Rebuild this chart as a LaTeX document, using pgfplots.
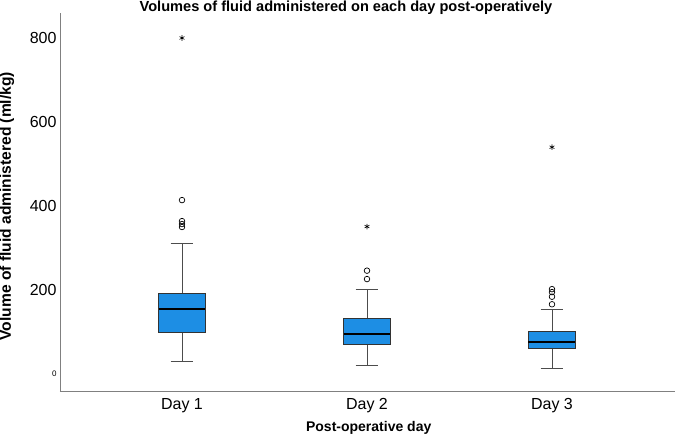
\documentclass[border=0pt]{standalone}
\usepackage{fontspec}
\setmainfont{Liberation Sans}
\usepackage{pgfplots}
\pgfplotsset{compat=1.18}
\definecolor{boxblue}{RGB}{29,142,228}
\definecolor{axgray}{RGB}{128,128,128}
\begin{document}
\begin{tikzpicture}
\begin{axis}[
 at={(0pt,0pt)}, anchor=south west,
 scale only axis, width=615pt, height=378pt,
 xmin=0.3405, xmax=3.665, ymin=-40.5, ymax=859.5,
 axis x line*=bottom, axis y line*=left,
 axis line style={axgray, line width=0.9pt, -},
 xtick={1,2,3}, xticklabels={Day 1, Day 2, Day 3},
 ytick={0,200,400,600,800},
 yticklabels={{\fontsize{8}{9}\selectfont 0},200,400,600,800},
 tick style={draw=none},
 tick label style={font=\fontsize{16}{18}\selectfont},
 xticklabel style={yshift=-4pt},
 every axis title shift=0pt,
 title={Volumes of fluid administered on each day post-operatively},
 title style={font=\bfseries\fontsize{14.6}{16}\selectfont, at={(axis description cs:0.465,1.003)}, anchor=base, inner sep=0pt},
 xlabel={Post-operative day},
 xlabel style={font=\bfseries\fontsize{14}{16}\selectfont, at={(axis description cs:0.502,-0.097)}, anchor=center},
 ylabel={Volume of fluid administered (ml/kg)},
 ylabel style={font=\bfseries\fontsize{15.6}{17}\selectfont, at={(axis description cs:-0.0862,0.489)}, anchor=center},
]
% whiskers (vertical)
\addplot[black!70, line width=0.8pt] coordinates {(1,29) (1,100)};
\addplot[black!70, line width=0.8pt] coordinates {(1,193) (1,310)};
\addplot[black!70, line width=0.8pt] coordinates {(2,21) (2,71)};
\addplot[black!70, line width=0.8pt] coordinates {(2,133) (2,202)};
\addplot[black!70, line width=0.8pt] coordinates {(3,14) (3,61)};
\addplot[black!70, line width=0.8pt] coordinates {(3,102) (3,154)};
% whisker caps
\addplot[black!70, line width=0.8pt] coordinates {(0.938,29) (1.062,29)};
\addplot[black!70, line width=0.8pt] coordinates {(0.938,310) (1.062,310)};
\addplot[black!70, line width=0.8pt] coordinates {(1.938,21) (2.062,21)};
\addplot[black!70, line width=0.8pt] coordinates {(1.938,202) (2.062,202)};
\addplot[black!70, line width=0.8pt] coordinates {(2.938,14) (3.062,14)};
\addplot[black!70, line width=0.8pt] coordinates {(2.938,154) (3.062,154)};
% boxes
\addplot[draw=black!80, line width=0.8pt, fill=boxblue] coordinates {(0.873,100) (1.127,100) (1.127,193) (0.873,193)} --cycle;
\addplot[draw=black!80, line width=0.8pt, fill=boxblue] coordinates {(1.873,71) (2.127,71) (2.127,133) (1.873,133)} --cycle;
\addplot[draw=black!80, line width=0.8pt, fill=boxblue] coordinates {(2.873,61) (3.127,61) (3.127,102) (2.873,102)} --cycle;
% medians
\addplot[black, line width=2pt] coordinates {(0.873,155) (1.127,155)};
\addplot[black, line width=2pt] coordinates {(1.873,95) (2.127,95)};
\addplot[black, line width=2pt] coordinates {(2.873,76) (3.127,76)};
% outliers
\addplot[only marks, mark=o, mark size=2.8pt, black, line width=0.7pt] coordinates {(1,414) (1,364) (1,357) (1,350) (2,246) (2,226) (3,202) (3,195) (3,184) (3,166)};
\addplot[only marks, mark=asterisk, mark size=2.8pt, black, line width=0.6pt] coordinates {(1,800) (2,351) (3,540)};
\end{axis}
\pgfresetboundingbox
\path[use as bounding box] (-60pt,-43pt) rectangle (616pt,391pt);
\end{tikzpicture}
\end{document}
